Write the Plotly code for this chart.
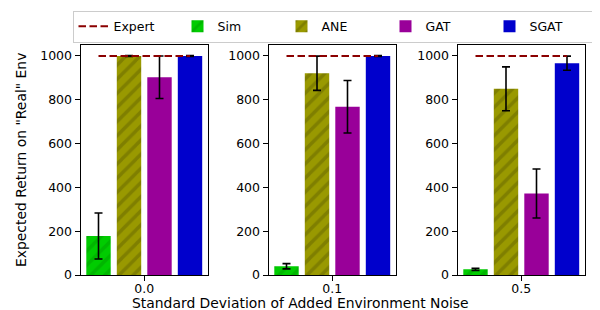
import plotly.graph_objects as go

noise_labels = ["0.0", "0.1", "0.5"]
methods = ["Sim", "ANE", "GAT", "SGAT"]
sim_mean = [178, 40, 26]
sim_err = [105, 12, 5]
ane_mean = [1000, 921, 850]
ane_err = [2, 78, 100]
gat_mean = [903, 768, 372]
gat_err = [97, 120, 112]
sgat_mean = [1000, 1000, 967]
sgat_err = [2, 2, 32]
expert_return = 1000
bar_positions = [-1.5, -0.5, 0.5, 1.5]

means = {"Sim": sim_mean, "ANE": ane_mean, "GAT": gat_mean, "SGAT": sgat_mean}
errs = {"Sim": sim_err, "ANE": ane_err, "GAT": gat_err, "SGAT": sgat_err}
colors = {"Sim": "#00cc00", "ANE": "#999900", "GAT": "#990099", "SGAT": "#0000cc"}
hatch = {"Sim": "#00a000", "ANE": "#666600", "GAT": None, "SGAT": None}

OFF = 8  # page body margin offset
W, H = 600 - OFF, 310 - OFF
FONT = "DejaVu Sans"
panel_left = [80.5 - OFF, 268.5 - OFF, 457.5 - OFF]
panel_w = 127.5
top_px, bot_px = 45 - OFF, 275 - OFF

fig = go.Figure()

for p in range(3):
    xa = "x" if p == 0 else f"x{p+1}"
    ya = "y" if p == 0 else f"y{p+1}"
    fig.add_trace(go.Scatter(
        x=[bar_positions[0], bar_positions[-1]], y=[expert_return, expert_return],
        mode="lines", line=dict(color="#8b0000", width=2, dash="7.5px,3.5px"),
        name="Expert", legendgroup="Expert", showlegend=(p == 0),
        xaxis=xa, yaxis=ya))
    for i, m in enumerate(methods):
        marker = dict(color=colors[m], line=dict(width=0))
        if hatch[m]:
            marker["pattern"] = dict(shape="/", fgcolor=hatch[m], bgcolor=colors[m],
                                     size=10, solidity=0.35, fillmode="overlay")
        fig.add_trace(go.Bar(
            x=[bar_positions[i]], y=[means[m][p]], width=0.8,
            error_y=dict(type="data", array=[errs[m][p]], color="black",
                         thickness=1.6, width=4),
            marker=marker, name=m, legendgroup=m, showlegend=(p == 0),
            xaxis=xa, yaxis=ya))

layout = dict(
    width=W, height=H, margin=dict(l=0, r=0, t=0, b=0, autoexpand=False),
    paper_bgcolor="white", plot_bgcolor="white",
    font=dict(family=FONT, size=12.5, color="black"),
    barmode="overlay", showlegend=True,
    legend=dict(orientation="h", x=(333.5 - OFF) / W, xanchor="center",
                y=1 - (26.5 - OFF) / H, yanchor="middle",
                bordercolor="#cccccc", borderwidth=1, bgcolor="white",
                font=dict(size=12.5), entrywidth=59, entrywidthmode="pixels",
                traceorder="normal", itemwidth=30, tracegroupgap=0),
)
for p in range(3):
    sx = "" if p == 0 else str(p + 1)
    layout[f"xaxis{sx}"] = dict(
        domain=[panel_left[p] / W, (panel_left[p] + panel_w) / W],
        range=[-2.09, 2.09], anchor=f"y{sx}", automargin=False,
        tickmode="array", tickvals=[0], ticktext=[noise_labels[p]],
        ticks="outside", ticklen=5, tickwidth=1, tickcolor="black",
        ticklabelstandoff=-3,
        showline=True, linecolor="black", linewidth=1, mirror=True,
        showgrid=False, zeroline=False, fixedrange=True)
    layout[f"yaxis{sx}"] = dict(
        domain=[(H - bot_px) / H, (H - top_px) / H],
        range=[0, 1050], anchor=f"x{sx}", automargin=False,
        tickmode="array", tickvals=[0, 200, 400, 600, 800, 1000],
        ticks="outside", ticklen=5, tickwidth=1, tickcolor="black",
        showline=True, linecolor="black", linewidth=1, mirror=True,
        showgrid=False, zeroline=False, fixedrange=True)
fig.update_layout(**layout)

fig.add_annotation(text="Standard Deviation of Added Environment Noise",
                   xref="paper", yref="paper", x=(300 - OFF) / W, y=1 - (303 - OFF) / H,
                   xanchor="center", yanchor="middle", showarrow=False,
                   font=dict(size=13.9, family=FONT))
fig.add_annotation(text='Expected Return on "Real" Env',
                   xref="paper", yref="paper", x=(21 - OFF) / W, y=1 - (160 - OFF) / H,
                   xanchor="center", yanchor="middle", showarrow=False, textangle=-90,
                   font=dict(size=13.9, family=FONT))

fig.write_html("out.html")
